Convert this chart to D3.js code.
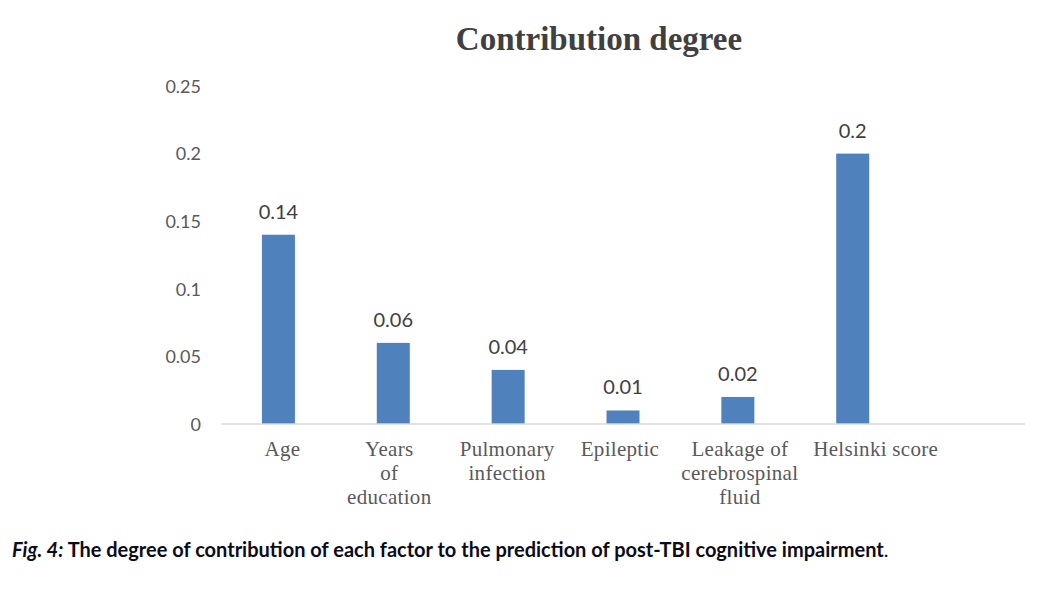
<!DOCTYPE html>
<html><head><meta charset="utf-8">
<script src="https://cdn.jsdelivr.net/npm/d3@7/dist/d3.min.js"></script>
<style>body{margin:0;background:#fff}svg{display:block}</style>
</head><body>
<svg id="c" width="1044" height="592"></svg>
<script>
const categories = ["Age","Years of education","Pulmonary infection","Epileptic","Leakage of cerebrospinal fluid","Helsinki score",""];
const labelLines = [["Age"],["Years","of","education"],["Pulmonary","infection"],["Epileptic"],["Leakage of","cerebrospinal","fluid"],["Helsinki score"],[]];
const values = [0.14,0.06,0.04,0.01,0.02,0.2,null];
const valueLabels = ["0.14","0.06","0.04","0.01","0.02","0.2",""];
const yTicks = [0,0.05,0.1,0.15,0.2,0.25];
const yTickLabels = ["0","0.05","0.1","0.15","0.2","0.25"];

// layout tweaks (horizontal nudges of wrapped category labels)
const labelNudge = [4,-4,-1,-3,2,23,0];

const svg = d3.select("#c");
const x = d3.scaleBand().domain(categories).range([221,1025]).paddingInner(0).paddingOuter(0);
const y = d3.scaleLinear().domain([0,0.25]).range([424,86]);
const barW = 33;

svg.append("text").attr("x",599).attr("y",50).attr("text-anchor","middle")
  .attr("font-family","Liberation Serif, serif").attr("font-weight","bold").attr("font-size",33)
  .attr("fill","#404040").text("Contribution degree");

const yAxis = d3.axisLeft(y).tickValues(yTicks).tickFormat((d,i)=>yTickLabels[i]).tickSize(0).tickPadding(0);
const ga = svg.append("g").attr("transform","translate(201,0)").call(yAxis);
ga.select(".domain").remove();
ga.selectAll("text").attr("font-family","Lato, 'Open Sans', sans-serif").attr("font-size",18).attr("fill","#595959").attr("dy","0.35em");

const data = categories.map((c,i)=>({c,i,v:values[i],l:valueLabels[i],lines:labelLines[i]}));
svg.selectAll("rect.bar").data(data.filter(d=>d.v!=null)).enter().append("rect")
  .attr("x",d=>x(d.c)+x.bandwidth()/2-barW/2).attr("width",barW)
  .attr("y",d=>y(d.v)).attr("height",d=>y(0)-y(d.v)).attr("fill","#4f81bd");

svg.selectAll("text.val").data(data.filter(d=>d.v!=null)).enter().append("text")
  .attr("x",d=>x(d.c)+x.bandwidth()/2).attr("y",d=>y(d.v)-16).attr("text-anchor","middle")
  .attr("font-family","Lato, 'Open Sans', sans-serif").attr("font-size",20).attr("fill","#404040").text(d=>d.l);

svg.append("line").attr("x1",221).attr("x2",1025).attr("y1",y(0)).attr("y2",y(0))
  .attr("stroke","#d9d9d9").attr("stroke-width",1.5);

const cl = svg.selectAll("text.cat").data(data).enter().append("text")
  .attr("text-anchor","middle").attr("font-family","Liberation Serif, serif").attr("font-size",21)
  .attr("letter-spacing","0.3px").attr("fill","#595959");
cl.each(function(d){
  const t=d3.select(this);
  d.lines.forEach((ln,j)=>t.append("tspan").attr("x",x(d.c)+x.bandwidth()/2+labelNudge[d.i]).attr("y",456+j*24).text(ln));
});

const cap = svg.append("text").attr("x",12).attr("y",557).attr("font-family","Lato, 'Open Sans', sans-serif").attr("font-size",20).attr("fill","#0b0b1a");
cap.append("tspan").attr("font-style","italic").attr("font-weight","bold").text("Fig. 4:");
cap.append("tspan").attr("font-weight","bold").text(" The degree of contribution of each factor to the prediction of post-TBI cognitive impairment");
cap.append("tspan").text(".");
</script>
</body></html>
